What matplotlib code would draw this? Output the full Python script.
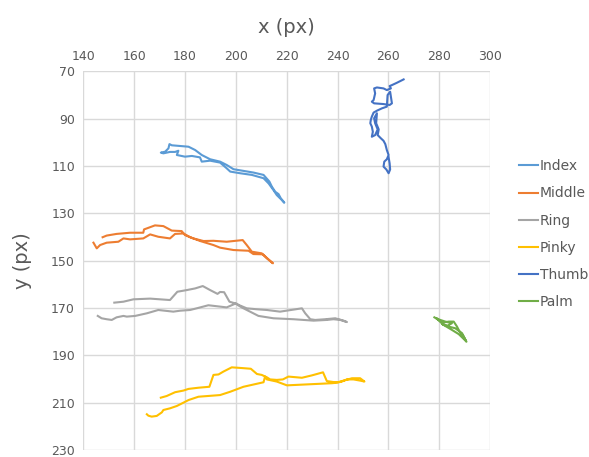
import matplotlib.pyplot as plt
import numpy as np

# finger tracks, pixel coordinates (x, y)
index_x = [218.8, 217.7, 216.8, 215.5, 214.2, 213.2, 210.9, 206.9, 203.0, 199.1, 196.4, 193.8,
           189.9, 186.6, 184.0, 181.4, 178.1, 174.8, 173.9, 173.5, 172.2, 170.5,
           171.5, 174.1, 176.1, 177.4, 176.8, 180.0, 182.7, 185.9, 186.6, 189.9, 193.8,
           196.4, 197.8, 201.7, 206.3, 210.9, 212.9, 214.8, 216.1, 218.1, 219.0]
index_y = [125.1, 123.7, 121.9, 120.9, 118.8, 116.6, 113.8, 112.8, 112.1, 111.4, 109.6, 108.2,
           107.2, 105.4, 103.3, 101.9, 101.6, 101.3, 100.8, 102.6, 104.0, 104.4,
           104.7, 104.1, 104.1, 103.6, 105.4, 106.1, 105.8, 106.4, 108.2, 107.8, 108.6,
           111.0, 112.4, 113.1, 113.8, 115.2, 117.4, 120.2, 122.3, 124.4, 125.5]

middle_x = [147.6, 149.2, 153.1, 158.4, 163.6, 163.9, 168.2, 171.5, 174.8, 178.7, 180.0, 183.3,
            187.3, 191.2, 196.4, 202.7, 204.3, 206.3, 210.2, 212.2, 214.6,
            212.8, 210.6, 206.9, 205.0, 199.1, 193.8, 191.2, 186.0, 182.0, 179.4, 176.1,
            174.1, 169.5, 166.3, 163.6, 158.4, 155.8, 153.8, 149.2, 146.6, 145.3, 144.0]
middle_y = [140.1, 139.4, 138.7, 138.2, 138.2, 136.8, 135.1, 135.4, 137.3, 137.5, 139.2, 140.6,
            141.7, 141.6, 142.0, 141.3, 143.4, 146.2, 146.9, 149.0, 151.1,
            149.4, 147.3, 147.2, 145.8, 145.5, 144.5, 143.4, 141.7, 140.1, 138.5, 138.7,
            140.6, 139.9, 138.9, 140.6, 141.0, 140.6, 142.0, 142.4, 143.4, 144.8, 142.4]

ring_x = [152.2, 155.8, 159.7, 166.3, 170.2, 174.1, 177.0, 180.7, 184.0, 187.0, 189.9, 192.8,
          193.8, 195.4, 196.4, 197.5, 199.7, 202.3, 205.6, 208.9, 214.8, 222.7, 230.6, 235.8,
          238.4, 241.1, 243.7,
          242.4, 239.1, 235.2, 231.2, 229.3, 227.3, 226.0, 217.4, 212.2, 208.3, 204.3, 201.4,
          200.1, 196.4, 189.2, 184.6, 182.0, 178.1, 175.4, 169.5, 165.0, 160.4, 157.1, 155.8,
          153.1, 151.2, 149.2, 147.2, 145.7]
ring_y = [167.7, 167.3, 166.3, 166.0, 166.3, 166.6, 163.1, 162.4, 161.7, 160.7, 162.4, 164.0,
          163.2, 163.3, 165.2, 167.3, 168.0, 169.7, 171.5, 173.3, 174.3, 174.7, 175.3, 175.0,
          174.7, 175.0, 175.9,
          175.3, 174.3, 174.7, 175.0, 174.7, 172.2, 170.1, 171.5, 170.8, 170.5, 170.1, 168.8,
          168.0, 169.7, 168.8, 170.1, 170.8, 171.1, 171.5, 170.8, 172.2, 173.3, 173.6, 173.3,
          173.9, 175.0, 174.7, 174.3, 173.3]

pinky_x = [170.5, 172.8, 176.1, 179.4, 181.4, 185.3, 189.6, 191.2, 193.2, 195.1, 198.4, 202.4,
           205.9, 208.3, 210.2, 212.2, 213.5, 216.1, 218.5, 220.7, 226.0, 229.9, 234.3, 235.8,
           238.4, 240.4, 242.4, 245.7, 248.9, 250.6,
           248.9, 246.3, 243.7, 241.7, 239.8, 237.8, 231.9, 226.0, 220.1, 216.1, 212.2, 211.5,
           210.9, 203.0, 197.8, 193.8, 185.3, 181.4, 179.4, 176.8, 174.1, 171.5, 170.9, 168.9,
           166.9, 165.6, 165.0]
pinky_y = [207.8, 207.1, 205.5, 204.8, 204.1, 203.6, 203.2, 198.2, 198.0, 196.8, 195.0, 195.3,
           195.6, 197.8, 198.2, 199.2, 200.1, 200.3, 200.1, 198.9, 199.4, 198.4, 197.1, 200.8,
           201.2, 201.2, 200.6, 199.6, 199.6, 201.0,
           200.6, 200.1, 200.1, 201.0, 201.5, 201.7, 202.0, 202.3, 202.6, 201.0, 200.1, 198.9,
           201.3, 203.2, 205.3, 206.7, 207.4, 208.8, 209.9, 211.3, 212.3, 213.0, 214.0, 215.5,
           215.8, 215.4, 214.8]

thumb_x = [266.0, 263.4, 261.4, 260.5, 261.0, 259.4, 258.1, 255.5, 254.4, 254.8, 254.2, 253.5,
           254.4, 258.1, 260.5, 261.4, 261.0, 260.7, 259.7, 259.4, 257.5, 255.5, 254.2, 253.5,
           253.1, 252.9, 253.5, 253.9, 253.5, 254.8, 255.8, 254.8, 254.4, 255.5, 255.2, 256.2,
           255.8, 257.1, 258.1, 258.8, 259.4, 260.1, 259.4, 258.4, 258.1, 259.2, 260.1, 260.7,
           260.5, 260.1]
thumb_y = [73.5, 74.9, 75.9, 76.3, 77.3, 78.0, 77.3, 76.9, 77.3, 79.4, 82.2, 82.9,
           83.6, 83.9, 84.3, 83.6, 80.8, 78.7, 80.1, 85.0, 85.7, 86.7, 87.5, 89.2,
           90.6, 92.0, 93.4, 95.6, 97.7, 97.0, 94.6, 92.0, 89.9, 87.8, 92.0, 94.6,
           97.0, 98.4, 99.4, 100.8, 103.3, 105.4, 107.2, 108.2, 110.3, 111.5, 113.1, 111.5,
           108.9, 106.4]

palm_x = [278.1, 279.8, 281.7, 283.7, 285.7, 287.0, 288.0, 289.6, 290.7, 289.0, 286.3, 283.7,
          281.1, 283.1, 285.0, 282.4, 280.4, 278.9, 281.7, 285.0, 287.7, 290.3]
palm_y = [173.9, 175.0, 176.1, 175.7, 175.7, 177.8, 179.9, 182.0, 184.2, 180.6, 178.5, 177.8,
          176.7, 177.5, 176.4, 175.7, 175.0, 174.3, 177.1, 179.2, 181.0, 183.7]

names = ['Index', 'Middle', 'Ring', 'Pinky', 'Thumb', 'Palm']
colors = ['#5B9BD5', '#ED7D31', '#A5A5A5', '#FFC000', '#4472C4', '#70AD47']
tracks = [(index_x, index_y), (middle_x, middle_y), (ring_x, ring_y),
          (pinky_x, pinky_y), (thumb_x, thumb_y), (palm_x, palm_y)]

fig = plt.figure(figsize=(5.89, 4.57), dpi=100)
ax = fig.add_axes([0.1414, 0.0147, 0.6906, 0.8297])

for name, color, (xs, ys) in zip(names, colors, tracks):
    ax.plot(xs, ys, color=color, lw=1.5, label=name, solid_joinstyle='round')

ax.set_xlim(140, 300)
ax.set_ylim(230, 70)
ax.set_xticks(np.arange(140, 301, 20))
ax.set_yticks(np.arange(70, 231, 20))
ax.xaxis.tick_top()
ax.xaxis.set_label_position('top')
ax.tick_params(length=0, labelsize=9, colors='#595959', pad=6)
ax.grid(True, color='#D9D9D9', lw=1)
ax.set_axisbelow(True)
for s in ax.spines.values():
    s.set_visible(False)

ax.set_xlabel('x (px)', fontsize=14, color='#595959', labelpad=12)
ax.set_ylabel('y (px)', fontsize=14, color='#595959', labelpad=14)

leg = ax.legend(loc='center left', bbox_to_anchor=(1.04, 0.57), frameon=False,
                fontsize=10, handlelength=1.4, handletextpad=0.1, labelspacing=0.95)
for t in leg.get_texts():
    t.set_color('#595959')

fig.savefig('out.png', dpi=100)
